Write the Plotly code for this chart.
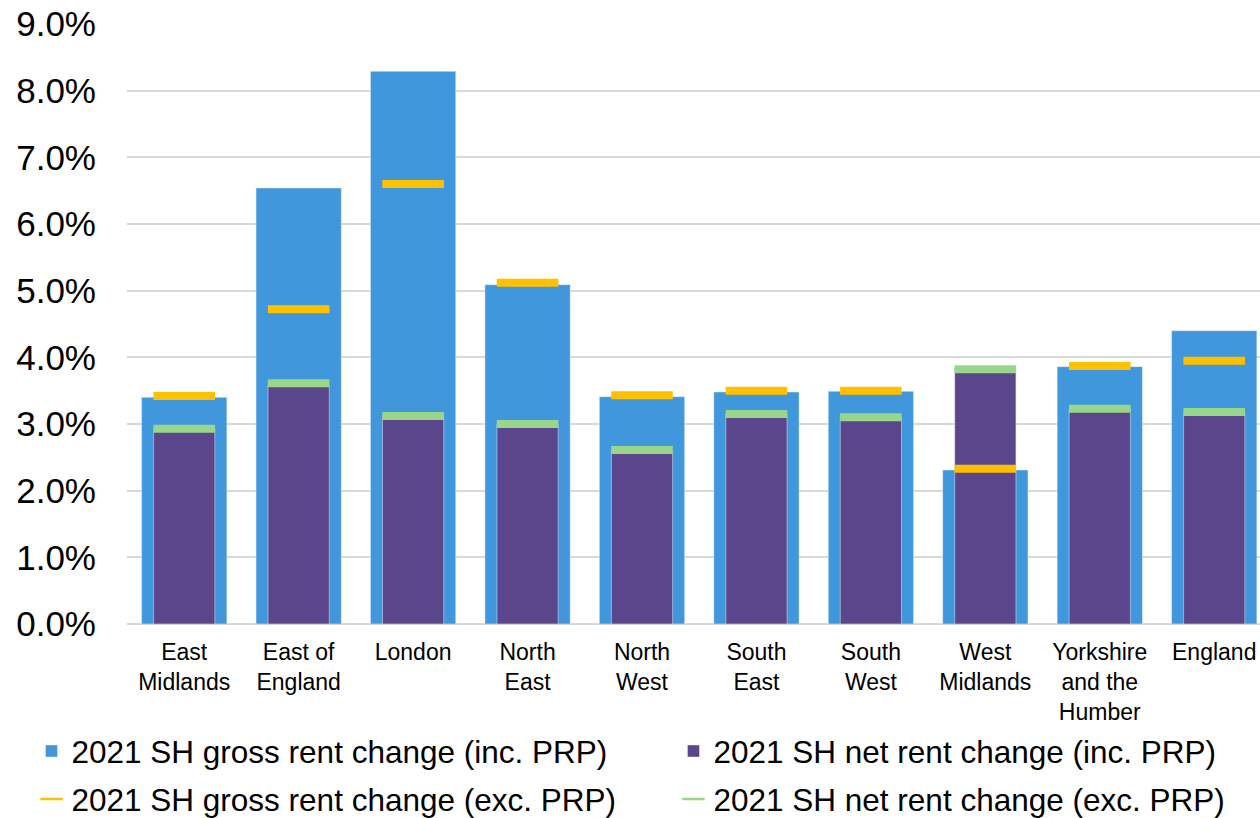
import plotly.graph_objects as go

regions = ["East<br>Midlands", "East of<br>England", "London", "North<br>East", "North<br>West",
           "South<br>East", "South<br>West", "West<br>Midlands", "Yorkshire<br>and the<br>Humber", "England"]

gross_inc = [3.40, 6.54, 8.29, 5.09, 3.41, 3.48, 3.49, 2.31, 3.86, 4.40]
net_inc = [2.93, 3.58, 3.10, 3.00, 2.60, 3.15, 3.10, 3.83, 3.23, 3.17]
gross_exc = [3.42, 4.72, 6.60, 5.12, 3.43, 3.50, 3.50, 2.33, 3.87, 3.95]
net_exc = [2.93, 3.61, 3.12, 3.00, 2.61, 3.15, 3.10, 3.82, 3.23, 3.18]

names = ["2021 SH gross rent change (inc. PRP)", "2021 SH net rent change (inc. PRP)",
         "2021 SH gross rent change (exc. PRP)", "2021 SH net rent change (exc. PRP)"]

BLUE = "#4197DC"
PURPLE = "#5C468B"
ORANGE = "#FFC000"
GREEN = "#98D68C"

fig = go.Figure()
fig.add_trace(go.Bar(x=regions, y=gross_inc, name=names[0], marker_color=BLUE,
                     width=0.745, legend="legend", legendgroup="a", legendrank=1))
fig.add_trace(go.Bar(x=regions, y=net_inc, name=names[1], marker_color=PURPLE,
                     width=0.535, legend="legend2", legendgroup="b", legendrank=1))
fig.add_trace(go.Scatter(x=regions, y=gross_exc, mode="markers", showlegend=False,
                         marker=dict(symbol="line-ew", size=44, line=dict(color=ORANGE, width=8))))
fig.add_trace(go.Scatter(x=regions, y=net_exc, mode="markers", showlegend=False,
                         marker=dict(symbol="line-ew", size=44, line=dict(color=GREEN, width=8))))
fig.add_trace(go.Scatter(x=[None], y=[None], mode="markers", name=names[2],
                         marker=dict(symbol="line-ew", size=16, line=dict(color=ORANGE, width=2.5)),
                         legend="legend", legendgroup="c", legendrank=2))
fig.add_trace(go.Scatter(x=[None], y=[None], mode="markers", name=names[3],
                         marker=dict(symbol="line-ew", size=16, line=dict(color=GREEN, width=2.5)),
                         legend="legend2", legendgroup="d", legendrank=2))

legend_common = dict(orientation="v", xref="container", yref="container",
                     y=1 - 724 / 818, xanchor="left", yanchor="top",
                     font=dict(size=31.5), itemwidth=30, tracegroupgap=4,
                     bgcolor="rgba(0,0,0,0)")

fig.update_layout(
    width=1260, height=818,
    margin=dict(l=127, r=0, t=24, b=194, autoexpand=False),
    barmode="overlay",
    plot_bgcolor="white", paper_bgcolor="white",
    font=dict(family="Liberation Sans, Arial, sans-serif", color="#000000"),
    showlegend=True,
    legend=dict(x=0.025, **legend_common),
    legend2=dict(x=0.5345, **legend_common),
)
fig.update_xaxes(type="category", categoryorder="array", categoryarray=regions,
                 range=[-0.5, 9.4], tickfont=dict(size=23), showline=False,
                 showgrid=False, ticks="", ticklabelstandoff=12, automargin=False)
fig.update_yaxes(range=[0, 9], dtick=1, tickformat=".1f", ticksuffix="%",
                 tickfont=dict(size=35), showgrid=True, gridcolor="#D9D9D9", gridwidth=1.5,
                 zeroline=True, zerolinecolor="#D9D9D9", zerolinewidth=1.5,
                 ticklabelstandoff=30, showline=False, automargin=False)

fig.write_html("out.html", config={"displayModeBar": False},
               post_script="document.body.style.margin='0';document.body.style.padding='0';")
